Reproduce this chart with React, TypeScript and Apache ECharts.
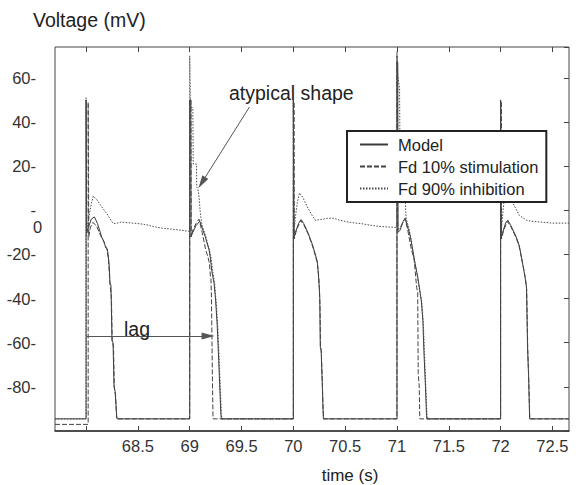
import React, { useEffect, useRef } from 'react';
import * as echarts from 'echarts';

const FONT = '"Liberation Sans", Arial, Helvetica, sans-serif';

const seriesNames = ['Model', 'Fd 10% stimulation', 'Fd 90% inhibition'];

// time (s), voltage (mV)
const modelTrace: [number, number][] = [
  [67.7, -94.5], [68.0, -94.5], [68.0, 50], [68.006, 50], [68.006, -10], [68.02, -8], [68.05, -4], [68.08, -3], [68.11, -6], [68.15, -12], [68.17, -14], [68.19, -17], [68.205, -17.5], [68.215, -21], [68.225, -26], [68.23, -33], [68.24, -34], [68.25, -59], [68.26, -60], [68.27, -80], [68.28, -82], [68.295, -93], [68.3, -94.5],
  [69.0, -94.5], [69.0, 50], [69.01, 50], [69.012, -12], [69.03, -10], [69.06, -7], [69.097, -4.9], [69.12, -8], [69.15, -12], [69.187, -18], [69.2, -22], [69.215, -28], [69.235, -33], [69.245, -38], [69.25, -41], [69.265, -52], [69.28, -68], [69.29, -80], [69.3, -92], [69.305, -94.5],
  [70.0, -94.5], [70.0, 50], [70.006, 50], [70.006, -12], [70.02, -10], [70.05, -6], [70.075, -4.2], [70.1, -6], [70.14, -10], [70.18, -15], [70.2, -18], [70.23, -23], [70.24, -28], [70.25, -35], [70.255, -40], [70.26, -62], [70.268, -63], [70.278, -77], [70.285, -88], [70.29, -94.5],
  [71.0, -94.5], [71.0, 67], [71.008, 67], [71.01, -10], [71.03, -9], [71.06, -5], [71.08, -3.6], [71.1, -7], [71.13, -12], [71.17, -23], [71.2, -30], [71.235, -41], [71.25, -50], [71.26, -64], [71.275, -80], [71.285, -93], [71.29, -94.5],
  [72.0, -94.5], [72.0, 50], [72.006, 50], [72.006, -12], [72.02, -10], [72.05, -5.5], [72.07, -4.5], [72.1, -7], [72.15, -12], [72.18, -16], [72.21, -23.5], [72.235, -30], [72.25, -35], [72.26, -62], [72.27, -75], [72.28, -94.5], [72.66, -94.5],
];

const stim10Trace: [number, number][] = [
  [67.7, -97], [68.02, -97], [68.02, 49], [68.026, 49], [68.026, -12], [68.04, -8], [68.065, -5.5], [68.1, -7], [68.15, -12.5], [68.17, -14], [68.2, -17.5], [68.215, -22], [68.23, -33], [68.245, -40], [68.252, -59], [68.265, -62], [68.272, -80], [68.285, -84], [68.295, -94.5],
  [69.0, -94.5], [69.0, 50], [69.012, 50], [69.014, -12], [69.03, -9], [69.06, -6], [69.09, -4], [69.12, -10], [69.155, -18], [69.175, -21], [69.19, -24], [69.2, -30], [69.205, -31], [69.21, -40], [69.215, -60], [69.22, -80], [69.225, -94.5],
  [70.0, -94.5], [70.0, 49], [70.008, 49], [70.008, -13], [70.03, -9], [70.07, -4.6], [70.1, -6.5], [70.14, -10.5], [70.18, -15.5], [70.2, -18.5], [70.232, -24], [70.245, -30], [70.252, -36], [70.258, -45], [70.262, -62], [70.27, -64], [70.28, -78], [70.287, -90], [70.292, -94.5],
  [71.0, -94.5], [71.0, 70], [71.006, 70], [71.008, -9], [71.04, -7], [71.075, -3.8], [71.1, -8], [71.14, -18], [71.165, -22], [71.19, -35], [71.2, -37], [71.205, -74], [71.215, -80], [71.22, -94.5],
  [72.0, -94.5], [72.0, 49], [72.008, 49], [72.008, -13], [72.03, -9], [72.065, -5], [72.1, -7.5], [72.15, -12.5], [72.18, -16.5], [72.212, -24], [72.24, -31], [72.252, -36], [72.262, -63], [72.272, -77], [72.282, -94.5], [72.66, -94.5],
];

const inhib90Trace: [number, number][] = [
  [67.7, -94.5], [68.0, -94.5], [68.0, 51], [68.004, 51], [68.004, -12], [68.02, -5], [68.05, 3], [68.07, 6.4], [68.1, 5], [68.14, 2.3], [68.2, -1.5], [68.25, -5.3], [68.265, -6], [68.3, -5.8], [68.34, -5.3], [68.4, -5.6], [68.5, -6], [68.58, -6.5], [68.67, -7.6], [68.77, -8.3], [68.88, -8.8], [68.99, -9.5], [69.0, -9.5],
  [69.0, 70], [69.004, 70], [69.006, 48], [69.03, 46], [69.034, 21], [69.065, 21], [69.068, 10.5], [69.08, 9.5], [69.09, 6], [69.1, 0], [69.107, -3], [69.12, -7], [69.15, -11], [69.19, -18], [69.205, -21], [69.22, -27], [69.24, -33], [69.25, -39], [69.255, -41], [69.27, -52], [69.285, -68], [69.295, -80], [69.305, -92], [69.31, -94.5],
  [70.0, -94.5], [70.0, 50], [70.005, 50], [70.005, -10], [70.02, -3], [70.04, 4], [70.06, 7.9], [70.09, 6], [70.13, 2], [70.17, -1.5], [70.21, -4.5], [70.26, -4.2], [70.33, -3.6], [70.39, -3.6], [70.45, -4.5], [70.55, -5.5], [70.65, -6], [70.75, -6.8], [70.85, -7.4], [70.97, -7.7], [71.0, -7.7],
  [71.0, 72], [71.004, 72], [71.006, 62], [71.025, 55], [71.03, 20], [71.07, 8], [71.078, 6], [71.085, -1], [71.09, -4], [71.12, -9], [71.17, -23], [71.2, -31], [71.24, -42], [71.255, -52], [71.265, -64], [71.278, -80], [71.29, -93], [71.295, -94.5],
  [72.0, -94.5], [72.0, 50], [72.005, 50], [72.005, -10], [72.02, -2], [72.04, 7.6], [72.08, 5.5], [72.12, 3.2], [72.18, -2.3], [72.25, -4.5], [72.3, -5], [72.38, -5.3], [72.5, -5.8], [72.66, -5.8],
];

const xTickValues = [68, 68.5, 69, 69.5, 70, 70.5, 71, 71.5, 72, 72.5];
const xLabelValues = [68.5, 69, 69.5, 70, 70.5, 71, 71.5, 72, 72.5];
const yLabelValues = [-80, -60, -40, -20, 0, 20, 40, 60];

// annotation arrows (data coordinates)
const atypicalArrow: [number, number][] = [[69.576, 46.8], [69.117, 12.5]];
const lagArrow: [number, number][] = [[68.0, -57], [69.177, -57]];

export default function App() {
  const ref = useRef<HTMLDivElement>(null);
  useEffect(() => {
    if (!ref.current) return;
    const chart = echarts.init(ref.current, undefined, { renderer: 'svg' });
    const lineColor = '#3a3a3a';
    const axisColor = '#444';
    chart.setOption({
      animation: false,
      backgroundColor: '#fff',
      textStyle: { fontFamily: FONT },
      grid: {
        left: 55, right: 13, top: 47, bottom: 54,
        show: true, borderColor: axisColor, borderWidth: 1, backgroundColor: 'transparent',
      },
      legend: {
        data: seriesNames,
        orient: 'vertical',
        left: 347, top: 131,
        itemWidth: 28, itemHeight: 14, itemGap: 5,
        padding: [5, 8, 5, 12],
        borderColor: '#222', borderWidth: 2, backgroundColor: '#fff',
        itemStyle: { color: 'transparent', borderColor: 'transparent', borderWidth: 0, opacity: 0 },
        textStyle: { fontSize: 16.5, color: '#222', fontFamily: FONT, padding: [0, 0, 0, 5] },
      },
      xAxis: [
        {
          type: 'value', min: 67.7, max: 72.66, position: 'bottom',
          axisLine: { show: true, onZero: false, lineStyle: { color: '#333', width: 1.5 } },
          axisTick: { show: true, inside: true, length: 5, customValues: xTickValues, lineStyle: { color: axisColor } },
          axisLabel: { show: true, customValues: xLabelValues, margin: 6, fontSize: 16.5, color: '#333', fontFamily: FONT },
          splitLine: { show: false },
        },
        {
          type: 'value', min: 67.7, max: 72.66, position: 'top',
          axisLine: { show: false, onZero: false },
          axisTick: { show: true, inside: true, length: 5, customValues: xTickValues, lineStyle: { color: axisColor } },
          axisLabel: { show: false, customValues: xLabelValues },
          splitLine: { show: false },
        },
      ],
      yAxis: [
        {
          type: 'value', min: -100, max: 74, interval: 20, position: 'left',
          axisLine: { show: false, onZero: false },
          axisTick: { show: false },
          axisLabel: {
            margin: 19, fontSize: 16.5, color: '#333', fontFamily: FONT, padding: [10, 0, 0, 0],
            formatter: (v: number) => (yLabelValues.includes(v) ? (v === 0 ? '-' : `${v}-`) : ''),
          },
          splitLine: { show: false },
        },
        {
          type: 'value', min: -100, max: 74, interval: 20, position: 'right',
          axisLine: { show: false, onZero: false },
          axisTick: { show: true, inside: true, length: 5, lineStyle: { color: axisColor } },
          axisLabel: { show: false },
          splitLine: { show: false },
        },
      ],
      graphic: [
        { type: 'text', x: 33, y: 20, style: { text: 'Voltage (mV)', fontSize: 19.5, fontFamily: FONT, fill: '#222', align: 'left', verticalAlign: 'middle' } },
        { type: 'text', x: 350, y: 475, style: { text: 'time (s)', fontSize: 17, fontFamily: FONT, fill: '#222', align: 'center', verticalAlign: 'middle' } },
        { type: 'text', x: 37.5, y: 227, style: { text: '0', fontSize: 16.5, fontFamily: FONT, fill: '#333', align: 'center', verticalAlign: 'middle' } },
        { type: 'text', x: 229, y: 93, z: 10, style: { text: 'atypical shape', fontSize: 19.5, fontFamily: FONT, fill: '#222', align: 'left', verticalAlign: 'middle' } },
        { type: 'text', x: 124, y: 329, z: 10, style: { text: 'lag', fontSize: 19.5, fontFamily: FONT, fill: '#222', align: 'left', verticalAlign: 'middle' } },
      ],
      series: [
        {
          name: seriesNames[0], type: 'line', data: modelTrace, symbol: 'none', showSymbol: false,
          lineStyle: { color: lineColor, width: 1, type: 'solid' }, itemStyle: { color: lineColor },
          markLine: {
            silent: true, animation: false,
            symbol: ['none', 'triangle'], symbolSize: [7, 13],
            label: { show: false },
            lineStyle: { color: '#555', width: 1, type: 'solid' },
            itemStyle: { color: '#222' },
            data: [
              [{ coord: atypicalArrow[0] }, { coord: atypicalArrow[1] }],
              [{ coord: lagArrow[0] }, { coord: lagArrow[1] }],
            ],
          },
        },
        {
          name: seriesNames[1], type: 'line', data: stim10Trace, symbol: 'none', showSymbol: false,
          lineStyle: { color: '#444', width: 1, type: [5, 2] }, itemStyle: { color: '#444' },
        },
        {
          name: seriesNames[2], type: 'line', data: inhib90Trace, symbol: 'none', showSymbol: false,
          lineStyle: { color: '#4a4a4a', width: 1, type: [1.5, 1.5] }, itemStyle: { color: '#4a4a4a' },
        },
      ],
    });
    return () => chart.dispose();
  }, []);
  return <div ref={ref} style={{ position: 'fixed', left: 0, top: 0, width: 582, height: 485 }} />;
}
